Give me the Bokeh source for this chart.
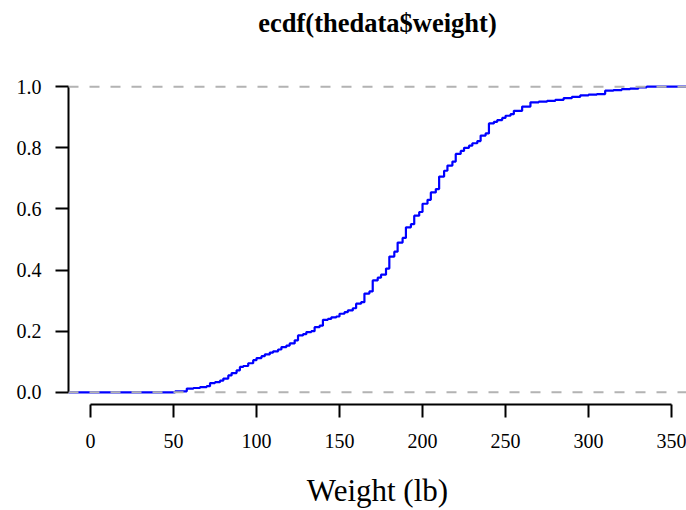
from bokeh.plotting import figure
from bokeh.models import Span, Title, FixedTicker, PrintfTickFormatter, Range1d
from bokeh.embed import file_html
from bokeh.resources import INLINE

# ECDF breakpoints (weight in lb) and cumulative proportions
weights = [51, 58, 62, 66, 70, 72, 75, 78, 80, 83, 85, 88, 90, 92, 95, 98, 100, 103, 105, 108,
           110, 113, 115, 118, 120, 123, 125, 128, 130, 133, 135, 138, 140, 143, 145, 148, 150,
           153, 155, 158, 160, 163, 165, 168, 170, 173, 175, 178, 180, 183, 185, 188, 190, 193,
           195, 198, 200, 203, 205, 208, 210, 213, 215, 218, 220, 223, 225, 228, 230, 233, 235,
           238, 240, 243, 245, 248, 250, 253, 255, 260, 265, 270, 275, 280, 285, 290, 295, 300,
           305, 310, 315, 320, 325, 330, 335]
ecdf_vals = [0.003, 0.012, 0.014, 0.017, 0.020, 0.030, 0.033, 0.038, 0.045, 0.055, 0.063, 0.072,
             0.083, 0.086, 0.095, 0.105, 0.112, 0.118, 0.124, 0.130, 0.134, 0.140, 0.148, 0.153,
             0.160, 0.170, 0.186, 0.190, 0.197, 0.200, 0.213, 0.218, 0.237, 0.240, 0.245, 0.248,
             0.257, 0.262, 0.268, 0.275, 0.290, 0.295, 0.323, 0.330, 0.366, 0.375, 0.385, 0.405,
             0.444, 0.460, 0.490, 0.505, 0.540, 0.550, 0.578, 0.590, 0.617, 0.630, 0.654, 0.665,
             0.706, 0.725, 0.742, 0.755, 0.780, 0.790, 0.800, 0.807, 0.815, 0.822, 0.840, 0.847,
             0.880, 0.885, 0.891, 0.898, 0.905, 0.910, 0.921, 0.935, 0.949, 0.951, 0.954, 0.957,
             0.963, 0.967, 0.972, 0.974, 0.976, 0.987, 0.989, 0.992, 0.994, 0.998, 1.000]

x_ticks = [0, 50, 100, 150, 200, 250, 300, 350]
y_ticks = [0.0, 0.2, 0.4, 0.6, 0.8, 1.0]

title_text = "ecdf(thedata$weight)"
x_label = "Weight (lb)"

FONT = "Liberation Serif"

x_lo, x_hi = -13.25, 359.0
y_lo, y_hi = -0.04, 1.04

p = figure(width=686, height=510, output_backend="svg", toolbar_location=None,
           x_range=Range1d(x_lo, x_hi), y_range=Range1d(y_lo, y_hi),
           min_border_left=68, min_border_right=0, min_border_top=0, min_border_bottom=106,
           title=None)
p.outline_line_color = None
p.xgrid.visible = False
p.ygrid.visible = False
p.background_fill_color = "white"
p.border_fill_color = "white"

# step line (extended horizontally to the plot edges as R does)
xs = [x_lo] + weights + [x_hi]
ys = [0.0] + ecdf_vals + [ecdf_vals[-1]]
p.step(xs, ys, mode="after", line_color="#0000FF", line_width=2.2)

for yv in (0.0, 1.0):
    p.add_layout(Span(location=yv, dimension="width", line_color="#B3B3B3",
                      line_dash="10 11", line_width=2))

# axes
xa = p.xaxis[0]
xa.bounds = (0, 350)
xa.ticker = FixedTicker(ticks=x_ticks)
xa.minor_tick_line_color = None
xa.major_tick_in = 0
xa.major_tick_out = 13
xa.axis_line_width = 2
xa.major_tick_line_width = 2
xa.major_label_text_font = FONT
xa.major_label_text_font_size = "20px"
xa.major_label_text_color = "black"
xa.major_label_standoff = 16
xa.axis_label = x_label
xa.axis_label_text_font = FONT
xa.axis_label_text_font_size = "31px"
xa.axis_label_text_font_style = "normal"
xa.axis_label_text_color = "black"
xa.axis_label_standoff = 22

ya = p.yaxis[0]
ya.bounds = (0, 1)
ya.ticker = FixedTicker(ticks=y_ticks)
ya.formatter = PrintfTickFormatter(format="%.1f")
ya.minor_tick_line_color = None
ya.major_tick_in = 0
ya.major_tick_out = 13
ya.axis_line_width = 2
ya.major_tick_line_width = 2
ya.major_label_text_font = FONT
ya.major_label_text_font_size = "20px"
ya.major_label_text_color = "black"
ya.major_label_standoff = 14

# spacer between frame and title (added first, so it sits next to the frame)
p.add_layout(Title(text=" ", text_font=FONT, text_font_size="18px", standoff=10), "above")
p.add_layout(Title(text=title_text, align="center", text_font=FONT, text_font_size="26.5px",
                   text_font_style="bold", text_color="black", offset=4), "above")

open("out.html", "w").write(file_html(p, INLINE))
